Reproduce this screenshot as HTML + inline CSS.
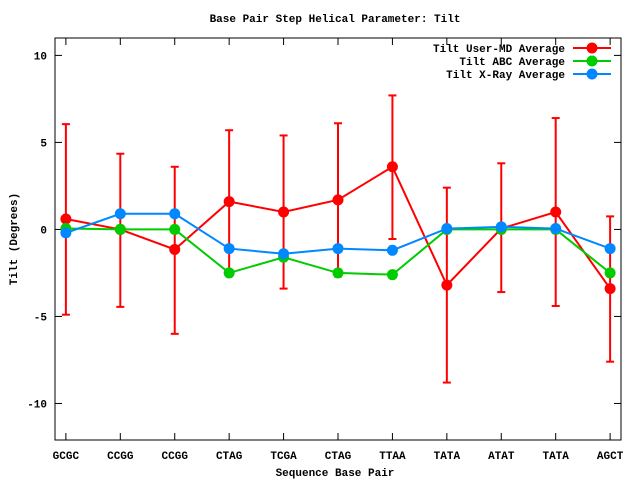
<!DOCTYPE html>
<html><head><meta charset="utf-8"><style>
body{margin:0;background:#fff;}
svg{display:block;font-family:"Liberation Mono","DejaVu Sans Mono",monospace;font-size:11px;font-weight:bold;}
</style></head><body>
<svg id="chart" width="640" height="480">
<text x="335" y="22" text-anchor="middle">Base Pair Step Helical Parameter: Tilt</text>
<text x="335" y="476" text-anchor="middle">Sequence Base Pair</text>
<text transform="translate(17,239) rotate(-90)" text-anchor="middle">Tilt (Degrees)</text>
<rect x="55" y="38" width="566" height="402" fill="none" stroke="#000"/>
<g id="axes"></g><g id="series"></g><g id="legend"></g>
</svg>
<script>
const categories=["GCGC","CCGG","CCGG","CTAG","TCGA","CTAG","TTAA","TATA","ATAT","TATA","AGCT"];
const userMD=[0.6,0,-1.15,1.6,1.0,1.7,3.6,-3.2,0.05,1.0,-3.4];
const userHi=[6.05,4.35,3.6,5.7,5.4,6.1,7.7,2.4,3.8,6.4,0.75];
const userLo=[-4.9,-4.45,-6.0,-2.5,-3.4,-2.7,-0.55,-8.8,-3.6,-4.4,-7.6];
const abc=[0.05,0,0,-2.5,-1.6,-2.5,-2.6,0,0,0,-2.5];
const xray=[-0.2,0.9,0.9,-1.1,-1.4,-1.1,-1.2,0.05,0.15,0.05,-1.1];
const yTicks=[-10,-5,0,5,10];
const NS="http://www.w3.org/2000/svg";
const X0=55,X1=621,Y0=38,Y1=440,xmin=-0.2,xmax=10.2,ymin=-12.1,ymax=11;
const sx=i=>X0+(i-xmin)/(xmax-xmin)*(X1-X0);
const sy=v=>Y1-(v-ymin)/(ymax-ymin)*(Y1-Y0);
function mk(tag,attrs,parent){const e=document.createElementNS(NS,tag);for(const k in attrs)e.setAttribute(k,attrs[k]);parent.appendChild(e);return e;}
const axes=document.getElementById('axes');
yTicks.forEach(t=>{
 const y=sy(t);
 const l=mk('line',{x1:X0,x2:X0+7,y1:y,y2:y,stroke:'#000'},axes);
 
 
 const l2=mk('line',{x1:X1-7,x2:X1,y1:y,y2:y,stroke:'#000'},axes);
 
 
 const tx=mk('text',{x:X0-8,y:y+4,'text-anchor':'end'},axes);tx.textContent=t;
 
 
});
categories.forEach((c,i)=>{
 const x=sx(i);
 const l=mk('line',{x1:x,x2:x,y1:Y1,y2:Y1-7,stroke:'#000'},axes);
 
 
 const l2=mk('line',{x1:x,x2:x,y1:Y0,y2:Y0+7,stroke:'#000'},axes);
 
 
 const tx=mk('text',{x:x,y:Y1+19,'text-anchor':'middle'},axes);tx.textContent=c;
 
 
});
const S=document.getElementById('series');
function line(vals,color,name){
 const p=mk('polyline',{points:vals.map((v,i)=>sx(i)+','+sy(v)).join(' '),fill:'none',stroke:color,'stroke-width':2},S);
 
 
}
function dots(vals,color,name){
 vals.forEach((v,i)=>{const c=mk('circle',{cx:sx(i),cy:sy(v),r:5.5,fill:color},S);
 
 });
}
userHi.forEach((h,i)=>{
 const x=sx(i);
 const g=mk('g',{stroke:'#f00','stroke-width':2},S);
 
 
 mk('line',{x1:x,x2:x,y1:sy(h),y2:sy(userLo[i])},g);
 mk('line',{x1:x-4,x2:x+4,y1:sy(h),y2:sy(h)},g);
 mk('line',{x1:x-4,x2:x+4,y1:sy(userLo[i]),y2:sy(userLo[i])},g);
});
line(userMD,'#f00','user-md');dots(userMD,'#f00','user-md');
line(abc,'#0c0','abc');dots(abc,'#0c0','abc');
line(xray,'#08f','xray');dots(xray,'#08f','xray');
const L=document.getElementById('legend');
[["Tilt User-MD Average","#f00"],["Tilt ABC Average","#0c0"],["Tilt X-Ray Average","#08f"]].forEach((e,k)=>{
 const y=48+k*13;
 const g=mk('g',{},L);
 
 
 const t=mk('text',{x:565,y:y+4,'text-anchor':'end'},g);t.textContent=e[0];
 mk('line',{x1:573,x2:611,y1:y,y2:y,stroke:e[1],'stroke-width':2},g);
 mk('circle',{cx:592,cy:y,r:5.5,fill:e[1]},g);
});
</script>
</body></html>
